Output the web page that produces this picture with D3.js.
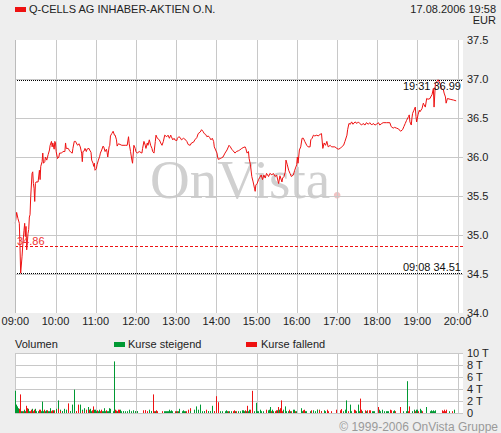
<!DOCTYPE html>
<html><head><meta charset="utf-8">
<script src="https://cdn.jsdelivr.net/npm/d3@7"></script>
<style>
html,body{margin:0;padding:0;background:#eeeeee;}
svg{display:block;}
text{font-family:"Liberation Sans",Arial,sans-serif;font-size:11px;}
</style></head>
<body>
<script>
const title = "Q-CELLS AG INHABER-AKTIEN O.N.";
const stamp = "17.08.2006 19:58";
const currency = "EUR";
const hourLabels = ["09:00","10:00","11:00","12:00","13:00","14:00","15:00","16:00","17:00","18:00","19:00","20:00"];
const priceTicks = [34.0,34.5,35.0,35.5,36.0,36.5,37.0,37.5];
const volTicks = [0,2,4,6,8,10];
const prevClose = 34.86;

// minutes after 09:00
const priceMinutes = [
0,2,4,6,7,8,10,11,13,14,
15,16,17,19,20,21,22,23,25,26,
27,28,29,30,31,34,36,37,38,40,
41,42,44,45,47,49,51,52,54,55,
56,58,59,60,61,63,65,66,69,71,
74,75,76,79,81,83,85,86,88,90,
91,93,95,97,99,100,101,103,104,106,
107,110,111,113,114,116,117,118,119,121,
122,124,126,127,129,131,132,134,136,137,
138,140,141,142,144,146,148,149,151,152,
154,159,164,167,169,170,172,174,175,177,
179,180,182,185,189,190,192,194,195,197,
198,200,202,204,205,207,209,210,212,215,
217,219,221,223,226,228,230,232,233,235,
237,238,241,242,244,246,248,251,253,256,
258,261,263,266,268,271,273,276,278,280,
282,284,286,288,290,292,294,296,297,299,
301,302,303,306,308,310,313,316,318,319,
321,323,325,328,330,333,335,338,340,343,
344,346,348,349,351,353,355,357,358,359,
361,363,365,367,369,371,373,375,378,380,
383,385,388,390,393,395,398,399,401,403,
404,406,408,410,412,415,417,420,421,422,
424,426,428,430,432,435,437,440,441,443,
445,447,450,452,455,457,459,461,463,465,
467,470,472,477,480,482,485,487,490,492,
495,496,498,500,502,504,507,510,512,514,
517,519,522,524,527,529,532,534,537,539,
542,544,547,549,554,559,561,564,566,569,
572,575,578,580,582,584,587,588,589,591,
592,593,595,597,598,599,601,603,604,607,
609,610,612,614,616,619,620,622,624,625,
627,631,634,636,639,640,642,643,645,649,
654,658];
const priceValues = [
35.15,35.29,35.21,35.15,34.85,34.51,34.72,34.85,35.06,35.15,
34.98,35.11,34.81,35.02,35.07,35.23,35.26,35.49,35.79,35.81,
35.66,35.60,35.43,35.66,35.68,35.68,35.83,35.71,35.88,35.94,
36.05,35.92,35.94,36.00,35.96,36.03,36.09,36.15,36.20,36.13,
36.18,36.10,36.20,36.18,36.07,35.98,36.00,36.05,36.05,36.07,
36.07,36.18,36.11,36.11,36.08,36.06,36.05,36.11,36.20,36.20,
36.18,36.15,36.17,36.13,36.05,35.94,36.07,36.08,36.11,36.07,
36.10,36.11,36.09,36.06,35.96,35.92,35.88,35.92,35.83,35.85,
35.90,35.96,36.01,36.05,36.09,36.14,36.13,36.07,36.10,36.06,
36.00,36.13,36.15,36.27,36.30,36.33,36.28,36.28,36.22,36.14,
36.17,36.15,36.15,36.15,36.26,36.17,36.07,35.96,35.92,36.15,
36.11,36.07,36.05,36.07,36.05,36.11,36.20,36.15,36.11,36.18,
36.15,36.22,36.15,36.11,36.07,36.05,36.20,36.28,36.24,36.22,
36.18,36.15,36.20,36.28,36.26,36.28,36.24,36.28,36.26,36.22,
36.24,36.22,36.21,36.24,36.26,36.25,36.22,36.24,36.23,36.20,
36.16,36.15,36.18,36.19,36.22,36.25,36.30,36.32,36.35,36.33,
36.30,36.29,36.26,36.27,36.25,36.22,36.24,36.20,36.13,36.09,
36.05,36.00,35.97,35.98,35.99,36.00,36.05,36.09,36.13,36.15,
36.13,36.10,36.08,36.05,36.07,36.08,36.09,36.11,36.12,36.13,
36.11,36.05,36.07,35.98,35.90,35.75,35.68,35.60,35.56,35.64,
35.66,35.71,35.74,35.77,35.71,35.77,35.73,35.79,35.75,35.79,
35.77,35.79,35.75,35.77,35.66,35.76,35.68,35.73,35.75,35.81,
35.96,35.90,35.83,35.79,35.75,35.77,35.83,35.90,36.00,35.92,
36.09,36.13,36.24,36.24,36.20,36.15,36.13,36.13,36.22,36.24,
36.28,36.27,36.28,36.27,36.29,36.30,36.11,36.18,36.15,36.20,
36.13,36.15,36.13,36.13,36.11,36.10,36.11,36.13,36.15,36.20,
36.28,36.35,36.43,36.42,36.45,36.42,36.45,36.43,36.45,36.43,
36.41,36.43,36.41,36.44,36.42,36.44,36.41,36.43,36.41,36.42,
36.44,36.41,36.43,36.44,36.44,36.44,36.39,36.37,36.38,36.37,
36.36,36.33,36.35,36.39,36.43,36.47,36.52,36.54,36.45,36.41,
36.50,36.56,36.60,36.64,36.52,36.45,36.54,36.60,36.58,36.62,
36.69,36.67,36.64,36.75,36.74,36.75,36.77,36.80,36.88,36.64,
36.94,36.99,36.94,36.88,36.86,36.82,36.77,36.69,36.75,36.74,
36.73,36.72];

const volMinutes = [
0,1,2,4,5,6,7,9,10,12,
13,15,16,18,19,21,22,24,25,27,
28,30,31,34,36,37,39,40,42,43,
45,46,48,49,51,52,54,55,57,58,
60,61,63,64,66,67,69,70,73,75,
76,78,79,81,82,84,85,87,88,90,
91,93,94,96,97,99,100,102,103,105,
106,108,109,110,112,113,115,116,118,119,
121,122,124,125,127,128,130,131,133,134,
136,137,139,140,142,146,148,149,151,152,
154,155,157,158,160,161,164,167,169,170,
172,175,176,178,179,181,182,190,191,193,
194,196,200,202,203,206,207,209,210,212,
219,222,224,225,227,228,230,231,233,234,
239,240,242,243,245,249,251,252,254,255,
258,260,261,267,269,270,272,273,275,276,
278,281,282,284,285,287,288,290,291,293,
294,296,297,299,300,302,306,309,313,315,
316,318,319,322,325,327,328,330,333,336,
339,340,342,343,345,346,348,349,350,353,
354,356,359,360,362,365,367,370,374,377,
378,380,381,383,385,388,389,391,392,394,
395,397,398,400,402,403,404,407,409,410,
412,415,416,418,419,426,428,429,431,432,
434,440,442,444,445,447,450,451,453,454,
456,457,460,462,465,466,471,478,484,486,
489,492,493,496,500,501,505,507,508,511,
513,514,516,517,522,523,525,528,529,532,
534,535,541,543,544,547,550,553,555,556,
559,561,564,565,567,574,579,583,585,586,
588,592,595,597,598,600,601,604,605,607,
613,619,620,622,623,625,626,637,638,640,
641,643,647,652,655];
const volValues = [
3.7,1.4,1.1,0.8,0.3,0.7,3.1,0.3,0.3,0.3,
0.55,0.3,1.2,0.8,0.7,0.3,0.3,0.55,0.7,0.3,
0.55,0.7,0.3,0.3,0.55,0.55,0.3,1.9,0.3,0.55,
0.3,0.45,0.45,0.3,0.3,0.8,0.3,0.45,0.45,0.45,
0.45,0.7,2.1,0.7,0.55,0.3,0.3,0.3,0.7,0.3,
0.55,0.3,1.6,0.3,0.3,0.55,1.4,3.9,2.1,0.3,
0.3,0.55,1.4,0.7,1.4,0.55,0.3,0.8,0.45,0.45,
0.55,1.0,0.3,0.55,0.7,0.3,0.45,1.1,0.55,0.55,
0.3,0.45,0.3,0.55,0.3,0.55,0.3,0.3,0.8,0.3,
0.45,0.3,0.3,0.8,0.7,0.3,8.6,0.55,0.4,0.3,
0.55,0.55,0.55,0.3,0.3,0.3,0.3,0.3,0.55,0.3,
0.3,0.3,0.45,0.3,0.3,0.3,0.3,0.3,0.45,0.45,
0.45,0.3,0.55,0.3,0.3,3.1,0.3,0.3,0.45,0.3,
0.3,0.3,0.3,0.3,0.3,0.3,0.55,0.3,0.45,0.3,
0.3,0.3,0.3,0.3,0.7,0.3,0.45,0.3,0.3,0.3,
0.55,0.8,0.3,0.55,1.1,0.3,0.55,0.3,1.4,0.55,
0.3,0.3,0.3,0.3,0.55,0.3,0.3,0.3,0.3,1.2,
0.3,0.3,0.3,2.8,0.3,1.8,0.3,0.3,0.3,0.45,
0.3,0.3,0.3,0.3,0.3,0.45,0.3,0.3,0.3,0.3,
0.45,0.45,0.3,0.45,0.3,1.2,0.3,0.55,0.55,3.7,
0.55,0.3,1.7,0.3,0.3,0.55,0.3,0.3,0.55,0.45,
0.55,1.0,0.3,0.55,0.3,0.3,0.45,0.45,1.0,0.55,
0.8,2.1,0.3,0.55,0.3,1.1,0.3,0.3,0.55,0.3,
0.3,0.55,0.55,0.3,0.3,0.8,0.3,0.45,0.55,0.3,
0.3,0.3,0.45,0.3,0.45,0.3,0.55,0.55,0.55,0.45,
0.3,0.3,0.45,0.3,0.55,0.3,0.3,0.55,0.45,0.65,
0.3,0.55,2.1,0.3,1.4,0.3,0.55,0.45,0.3,1.4,
0.3,2.4,0.55,0.3,0.45,0.3,0.45,0.45,0.45,0.3,
0.3,0.3,1.0,0.55,0.3,0.55,0.3,0.3,0.3,0.3,
0.55,0.45,0.3,0.45,0.3,1.0,0.3,0.3,5.3,0.3,
1.1,0.3,0.55,0.3,0.55,0.55,0.3,0.7,0.45,0.3,
1.0,0.3,0.45,0.3,0.45,0.3,0.45,0.45,0.3,0.55,
0.3,0.55,0.3,0.3,0.55];
const volUp = [
1,1,1,1,1,0,0,1,1,0,
1,1,0,0,1,1,0,0,1,0,
0,1,1,1,0,0,1,1,1,0,
1,1,0,1,1,1,0,0,1,0,
1,1,1,0,1,0,1,1,1,0,
1,1,0,0,1,1,1,1,1,1,
0,0,0,0,1,1,0,1,1,1,
0,1,1,0,1,1,0,0,1,1,
1,0,1,1,0,0,1,1,1,1,
0,1,1,1,1,1,1,0,0,1,
0,0,1,1,1,1,1,1,1,1,
1,1,1,0,1,1,1,0,0,0,
0,0,1,1,1,0,0,1,0,0,
0,1,1,1,1,1,1,1,1,1,
0,1,0,1,1,1,1,1,1,0,
0,0,1,1,1,1,1,1,1,1,
1,1,1,1,0,1,1,0,1,1,
1,1,0,0,0,0,1,1,1,1,
1,0,1,1,0,0,1,0,1,1,
1,1,1,0,1,0,1,1,0,0,
0,1,1,1,1,1,1,1,0,1,
1,1,0,1,1,0,0,1,0,1,
0,0,0,1,0,1,1,1,0,1,
0,1,1,0,1,1,1,0,0,1,
1,1,0,1,1,1,0,1,1,0,
1,0,1,1,0,0,0,0,0,0,
1,1,1,0,1,1,0,0,1,1,
1,0,0,1,0,1,0,0,0,1,
1,1,0,1,1,1,1,1,1,1,
0,0,1,1,0,0,1,1,1,0,
0,1,1,0,1,1,0,1,1,0,
1,1,1,1,1,1,1,0,0,0,
0,0,1,0,1];

const W = 501, H = 433;
const L = 15, R = 463;
const svg = d3.select("body").append("svg").attr("width", W).attr("height", H);

const x = d3.scaleLinear().domain([0, 660]).range([15.3, 457.5]);
const y = d3.scaleLinear().domain([34, 37.5]).range([313, 40]);
const yv = d3.scaleLinear().domain([0, 10]).range([413, 353]);
const grid = "#c8c8c8";
const RED = "#ee1111", GREEN = "#009933";

// header
svg.append("rect").attr("x", 15).attr("y", 7).attr("width", 11).attr("height", 5).attr("fill", "#ee1111");
svg.append("text").attr("x", 29).attr("y", 13).attr("fill", "#222").text(title);
svg.append("text").attr("x", 496).attr("y", 13).attr("text-anchor", "end").attr("fill", "#222").text(stamp);
svg.append("text").attr("x", 496).attr("y", 24).attr("text-anchor", "end").attr("fill", "#222").text(currency);

// main plot background
svg.append("rect").attr("x", L).attr("y", 40).attr("width", R - L).attr("height", 273).attr("fill", "#fff");

// watermark
const wm = svg.append("text").attr("x", 247).attr("y", 198).attr("text-anchor", "middle")
  .style("font-family", "'Liberation Serif','DejaVu Serif',serif").style("font-size", "55px").attr("fill", "#d0d0d0");
wm.append("tspan").text("OnVista");
wm.append("tspan").attr("fill", "#f2c4c4").text(".");

// grid
const hours = d3.range(0, 12).map(h => h * 60);
svg.append("g").selectAll("line").data(priceTicks.filter(v => v > 34 && v < 37.5)).join("line")
  .attr("x1", L).attr("x2", R).attr("y1", d => Math.round(y(d)) + 0.5).attr("y2", d => Math.round(y(d)) + 0.5)
  .attr("stroke", grid);
svg.append("g").selectAll("line").data(hours).join("line")
  .attr("x1", d => Math.round(x(d)) + 0.5).attr("x2", d => Math.round(x(d)) + 0.5)
  .attr("y1", 40).attr("y2", 313).attr("stroke", grid);

// price labels
svg.append("g").selectAll("text").data(priceTicks).join("text")
  .attr("x", 467).attr("y", d => y(d) + 4).attr("fill", "#222").text(d => d.toFixed(1));
// hour labels
svg.append("g").selectAll("text").data(hourLabels).join("text")
  .attr("x", (d, i) => x(hours[i])).attr("y", 325).attr("text-anchor", "middle").attr("fill", "#222").text(d => d);

// reference lines
const prices = priceMinutes.map((m, i) => ({m, v: priceValues[i]}));
const hi = prices.reduce((a, b) => b.v > a.v ? b : a);
const lo = prices.reduce((a, b) => b.v < a.v ? b : a);
const fmtT = m => d3.format("02")(9 + Math.floor(m / 60)) + ":" + d3.format("02")(m % 60);

svg.append("line").attr("x1", L).attr("x2", R).attr("y1", Math.round(y(prevClose)) + 0.5).attr("y2", Math.round(y(prevClose)) + 0.5)
  .attr("stroke", RED).attr("stroke-dasharray", "3,2");
svg.append("line").attr("x1", L).attr("x2", R).attr("y1", Math.round(y(hi.v)) + 0.5).attr("y2", Math.round(y(hi.v)) + 0.5)
  .attr("stroke", "#000").attr("stroke-dasharray", "1,1");
svg.append("line").attr("x1", L).attr("x2", R).attr("y1", Math.round(y(lo.v)) + 0.5).attr("y2", Math.round(y(lo.v)) + 0.5)
  .attr("stroke", "#000").attr("stroke-dasharray", "1,1");

// price line
svg.append("path").datum(prices).attr("fill", "none").attr("stroke", RED).attr("stroke-width", 1)
  .attr("d", d3.line().x(d => x(d.m)).y(d => y(d.v)));

// labels on reference lines
svg.append("text").attr("x", 17).attr("y", y(prevClose) - 1).attr("fill", "#ee3333").text(prevClose.toFixed(2));
svg.append("text").attr("x", 461).attr("y", y(hi.v) + 10).attr("text-anchor", "end").attr("fill", "#111")
  .text(fmtT(hi.m) + " " + hi.v.toFixed(2));
svg.append("text").attr("x", 461).attr("y", y(lo.v) - 2).attr("text-anchor", "end").attr("fill", "#111")
  .text(fmtT(lo.m) + " " + lo.v.toFixed(2));

// left axis line
svg.append("line").attr("x1", L + 0.5).attr("x2", L + 0.5).attr("y1", 40).attr("y2", 313).attr("stroke", "#bbb");

// volume legend
svg.append("text").attr("x", 15).attr("y", 348).attr("fill", "#222").text("Volumen");
svg.append("rect").attr("x", 114).attr("y", 342).attr("width", 11).attr("height", 5).attr("fill", GREEN);
svg.append("text").attr("x", 128).attr("y", 348).attr("fill", "#222").text("Kurse steigend");
svg.append("rect").attr("x", 246).attr("y", 342).attr("width", 11).attr("height", 5).attr("fill", RED);
svg.append("text").attr("x", 261).attr("y", 348).attr("fill", "#222").text("Kurse fallend");

// volume panel
svg.append("rect").attr("x", L).attr("y", 353).attr("width", R - L).attr("height", 60).attr("fill", "#fff");
svg.append("g").selectAll("line").data(volTicks).join("line")
  .attr("x1", L).attr("x2", R).attr("y1", d => Math.round(yv(d)) + 0.5).attr("y2", d => Math.round(yv(d)) + 0.5)
  .attr("stroke", grid);
svg.append("g").selectAll("line").data(hours).join("line")
  .attr("x1", d => Math.round(x(d)) + 0.5).attr("x2", d => Math.round(x(d)) + 0.5)
  .attr("y1", 353).attr("y2", 413).attr("stroke", grid);
svg.append("g").selectAll("text").data(volTicks).join("text")
  .attr("x", 467).attr("y", d => yv(d) + 4).attr("fill", "#222").text(d => d === 0 ? "0" : d + " T");

const vols = volMinutes.map((m, i) => ({m, v: volValues[i], up: volUp[i]}));
svg.append("g").selectAll("rect").data(vols).join("rect")
  .attr("x", d => Math.round(x(d.m))).attr("width", 1)
  .attr("y", d => yv(d.v)).attr("height", d => yv(0) - yv(d.v))
  .attr("fill", d => d.up ? GREEN : RED);

// copyright
svg.append("text").attr("x", 498).attr("y", 431).attr("text-anchor", "end").attr("fill", "#9a9a9a")
  .style("font-size", "12px").text("© 1999-2006 OnVista Gruppe");
</script>
</body></html>
